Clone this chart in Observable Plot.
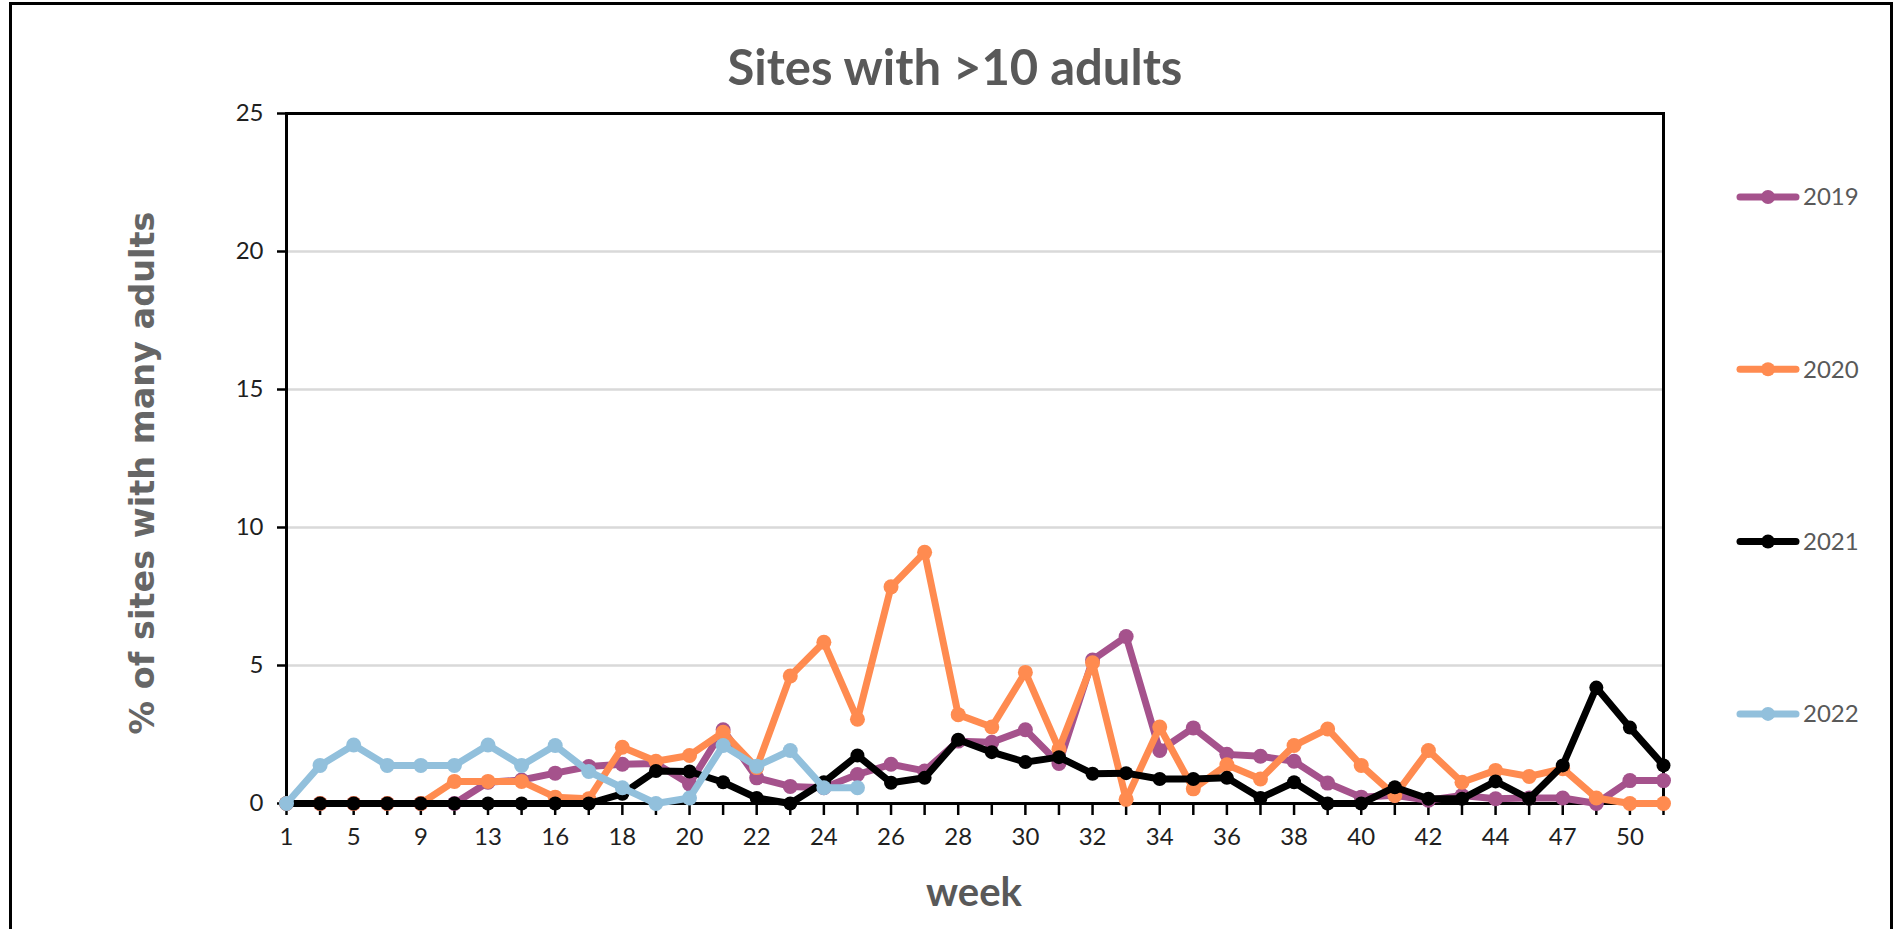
<!DOCTYPE html>
<html>
<head>
<meta charset="utf-8">
<script src="https://cdn.jsdelivr.net/npm/d3@7"></script>
<script src="https://cdn.jsdelivr.net/npm/@observablehq/plot@0.6"></script>
<style>
  html, body { margin: 0; padding: 0; background: #fff; }
  #wrap { position: relative; width: 1896px; height: 929px; overflow: hidden; background: #fff; }
  #wrap > svg { position: absolute; left: 0; top: 0; }
  #border { position: absolute; left: 9px; top: 2px; width: 1884px; height: 1000px; border: 3px solid #000; box-sizing: border-box; }
</style>
</head>
<body>
<div id="wrap"><div id="border"></div></div>
<script>
// ---- data ----
const weeks = [1, 3, 5, 7, 9, 11, 13, 15, 16, 17, 18, 19, 20, 21, 22, 23, 24, 25, 26, 27, 28, 29, 30, 31, 32, 33, 34, 35, 36, 37, 38, 39, 40, 41, 42, 43, 44, 45, 47, 48, 50, 51];
const xTickLabels = [1, 5, 9, 13, 16, 18, 20, 22, 24, 26, 28, 30, 32, 34, 36, 38, 40, 42, 44, 47, 50];
const yTicks = [0, 5, 10, 15, 20, 25];
const years = ["2019", "2020", "2021", "2022"];
const colors = ["#A5528C", "#FF8B50", "#000000", "#92C0DC"];

const y2019 = [0, 0, 0, 0, 0, 0, 0.77, 0.85, 1.1, 1.34, 1.42, 1.45, 0.71, 2.67, 0.93, 0.62, 0.57, 1.05, 1.42, 1.18, 2.26, 2.22, 2.67, 1.45, 5.2, 6.05, 1.92, 2.74, 1.78, 1.71, 1.53, 0.74, 0.23, 0.3, 0.12, 0.29, 0.17, 0.2, 0.2, 0, 0.83, 0.83];
const y2020 = [0, 0, 0, 0, 0, 0.8, 0.8, 0.8, 0.23, 0.17, 2.04, 1.53, 1.74, 2.58, 1.3, 4.62, 5.84, 3.05, 7.85, 9.1, 3.22, 2.77, 4.75, 1.97, 5.1, 0.15, 2.77, 0.53, 1.4, 0.89, 2.1, 2.7, 1.38, 0.29, 1.92, 0.77, 1.2, 0.98, 1.26, 0.2, 0, 0];
const y2021 = [0, 0, 0, 0, 0, 0, 0, 0, 0, 0, 0.35, 1.18, 1.16, 0.77, 0.2, 0, 0.77, 1.74, 0.75, 0.93, 2.31, 1.86, 1.5, 1.68, 1.08, 1.1, 0.89, 0.89, 0.93, 0.2, 0.77, 0, 0, 0.59, 0.17, 0.17, 0.8, 0.17, 1.38, 4.2, 2.75, 1.38];
const y2022 = [0, 1.38, 2.12, 1.38, 1.38, 1.38, 2.12, 1.38, 2.1, 1.16, 0.57, 0, 0.2, 2.1, 1.35, 1.92, 0.57, 0.57];

const seriesValues = [y2019, y2020, y2021, y2022];
const table = years.map((yr, k) =>
  seriesValues[k].map((v, i) => ({ year: yr, week: weeks[i], value: v }))
);

// ---- chart ----
const seriesMarks = table.flatMap((rows, k) => [
  Plot.line(rows, { x: "week", y: "value", stroke: colors[k], strokeWidth: 7, strokeLinejoin: "round", strokeLinecap: "round" }),
  Plot.dot(rows, { x: "week", y: "value", fill: colors[k], r: k === 2 ? 7 : 7.5, stroke: "none" })
]);

const chart = Plot.plot({
  width: 1896,
  height: 929,
  marginLeft: 286,
  marginRight: 233,
  marginTop: 113,
  marginBottom: 126,
  style: { fontFamily: "Lato, 'Open Sans', sans-serif", fontSize: "24px", color: "#1f1f1f", background: "transparent", overflow: "visible" },
  x: { type: "point", domain: weeks, padding: 0, round: false, inset: 0 },
  y: { domain: [0, 25], insetTop: 0, insetBottom: 0 },
  marks: [
    Plot.gridY(yTicks.filter(d => d > 0 && d < 25), { stroke: "#d9d9d9", strokeOpacity: 1, strokeWidth: 2.5 }),
    Plot.frame({ stroke: "#000", strokeWidth: 3 }),
    Plot.axisY(yTicks, { tickSize: 9, tickPadding: 14, strokeWidth: 2.5, stroke: "#000", label: null, fontSize: 24 }),
    Plot.axisX(weeks, { tickSize: 12, tickPadding: 12, strokeWidth: 2.5, stroke: "#000", label: null, fontSize: 24,
      tickFormat: d => xTickLabels.includes(d) ? String(d) : "" }),
    ...seriesMarks
  ]
});
document.getElementById("wrap").appendChild(chart);

// ---- titles & legend overlay ----
const overlay = d3.create("svg").attr("width", 1896).attr("height", 929);
overlay.append("text")
  .attr("x", 955).attr("y", 85)
  .attr("text-anchor", "middle")
  .attr("font-family", "Lato, sans-serif").attr("font-weight", 700).attr("font-size", 49)
  .attr("fill", "#595959")
  .text("Sites with >10 adults");
overlay.append("text")
  .attr("x", 974).attr("y", 906)
  .attr("text-anchor", "middle")
  .attr("font-family", "Lato, sans-serif").attr("font-weight", 700).attr("font-size", 40)
  .attr("fill", "#595959")
  .text("week");
overlay.append("text")
  .attr("transform", "translate(154,473) rotate(-90)")
  .attr("text-anchor", "middle")
  .attr("font-family", "'DejaVu Sans', sans-serif").attr("font-weight", 700).attr("font-size", 33.5)
  .attr("fill", "#666666")
  .text("% of sites with many adults");

const leg = overlay.append("g");
years.forEach((yr, k) => {
  const cy = 197 + k * 172.3;
  const g = leg.append("g").attr("transform", `translate(0,${cy})`);
  g.append("line").attr("x1", 1740).attr("x2", 1796).attr("y1", 0).attr("y2", 0)
    .attr("stroke", colors[k]).attr("stroke-width", 7).attr("stroke-linecap", "round");
  g.append("circle").attr("cx", 1768).attr("cy", 0).attr("r", 7).attr("fill", colors[k]);
  g.append("text").attr("x", 1803).attr("y", 0).attr("dy", "0.35em")
    .attr("font-family", "Lato, sans-serif").attr("font-size", 24).attr("fill", "#595959")
    .text(yr);
});
document.getElementById("wrap").appendChild(overlay.node());
</script>
</body>
</html>
